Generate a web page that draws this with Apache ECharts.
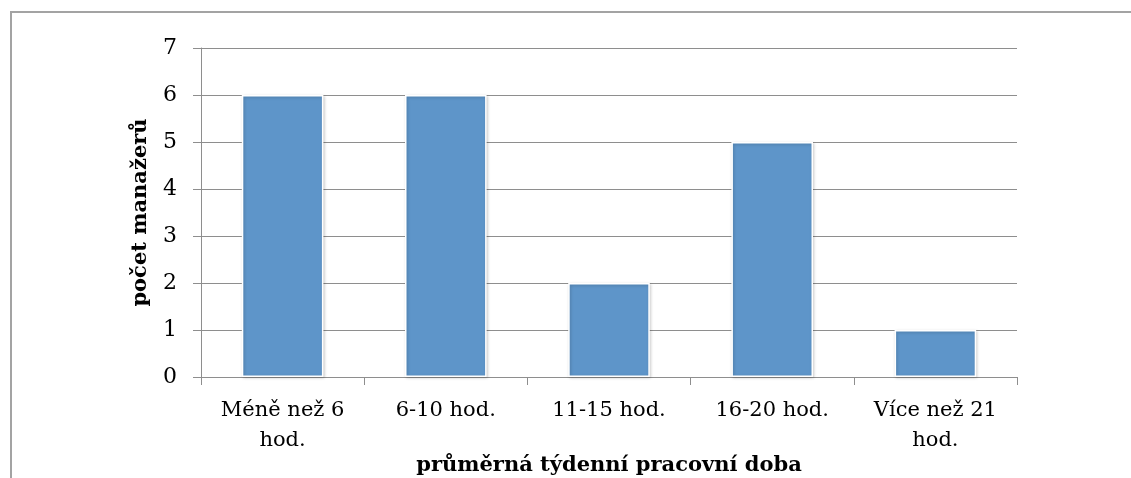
<!DOCTYPE html>
<html>
<head>
<meta charset="utf-8">
<script src="https://cdn.jsdelivr.net/npm/echarts@6/dist/echarts.min.js"></script>
<style>
  html, body { margin: 0; padding: 0; background: #fff; }
  #chart { width: 1131px; height: 478px; }
</style>
</head>
<body>
<div id="chart"></div>
<script>
// Weekly working time categories and number of managers in each
const categories = ['Méně než 6 hod.', '6-10 hod.', '11-15 hod.', '16-20 hod.', 'Více než 21 hod.'];
const managers = [6, 6, 2, 5, 1];
const yTicks = [0, 1, 2, 3, 4, 5, 6, 7];

const font = '"DejaVu Serif", "Liberation Serif", serif';
const gridColor = '#8e8e8e';

// Long category names wrap before their last word
function wrapLabel(text) {
  if (text.length <= 12) return text;
  const i = text.lastIndexOf(' ');
  return text.slice(0, i) + '\n' + text.slice(i + 1);
}

const chart = echarts.init(document.getElementById('chart'), null, { renderer: 'canvas' });
chart.setOption({
  animation: false,
  backgroundColor: '#fff',
  graphic: [{
    type: 'rect',
    shape: { x: 11, y: 12, width: 1200, height: 600 },
    style: { fill: 'none', stroke: '#a3a3a3', lineWidth: 2 },
    silent: true
  }],
  grid: { left: 201, right: 114, top: 48, bottom: 101, outerBoundsMode: 'none', containLabel: false },
  xAxis: {
    type: 'category',
    data: categories,
    axisLine: { lineStyle: { color: gridColor, width: 1 } },
    axisTick: { show: true, length: 8, interval: 0, lineStyle: { color: gridColor } },
    axisLabel: {
      interval: 0, margin: 19, color: '#000', fontFamily: font, fontSize: 21,
      lineHeight: 30, formatter: wrapLabel
    },
    name: 'průměrná týdenní pracovní doba',
    nameLocation: 'middle',
    nameMoveOverlap: false,
    nameGap: 78,
    nameTextStyle: { color: '#000', fontFamily: font, fontSize: 21, fontWeight: 'bold' }
  },
  yAxis: {
    type: 'value',
    min: yTicks[0],
    max: yTicks[yTicks.length - 1],
    interval: 1,
    axisLine: { show: true, lineStyle: { color: gridColor, width: 1 } },
    axisTick: { show: true, length: 8, lineStyle: { color: gridColor } },
    splitLine: { lineStyle: { color: gridColor, width: 1 } },
    axisLabel: { margin: 24, color: '#000', fontFamily: font, fontSize: 22 },
    name: 'počet manažerů',
    nameLocation: 'middle',
    nameMoveOverlap: false,
    nameGap: 50,
    nameTextStyle: { color: '#000', fontFamily: font, fontSize: 21, fontWeight: 'bold' }
  },
  series: [{
    type: 'bar',
    data: managers,
    barCategoryGap: '50%',
    itemStyle: {
      color: '#5e95c9',
      borderColor: '#ffffff',
      borderWidth: 1.5,
      shadowColor: 'rgba(0,0,0,0.22)',
      shadowBlur: 3,
      shadowOffsetX: 1,
      shadowOffsetY: 1
    }
  }]
});
</script>
</body>
</html>
